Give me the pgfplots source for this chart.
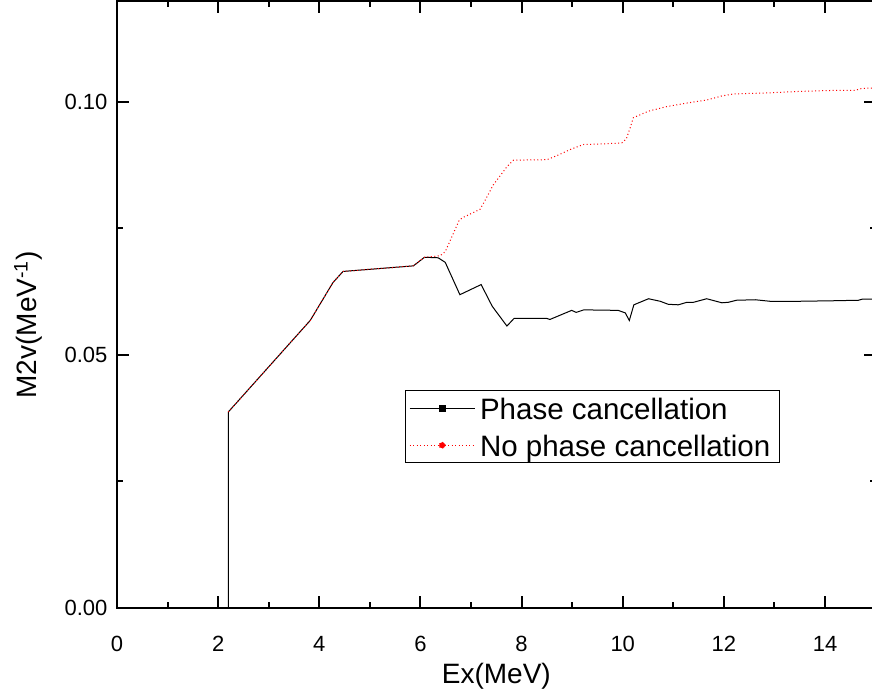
\documentclass[border=0pt]{standalone}
\usepackage{pgfplots}
\pgfplotsset{compat=1.18}
\usepackage{fontspec}
\setmainfont{Liberation Sans}
\begin{document}
\begin{tikzpicture}
\useasboundingbox (0,0) rectangle (872pt,697pt);
\begin{axis}[
  at={(117pt,89.3pt)}, anchor=south west,
  scale only axis, width=758.6pt, height=606.8pt,
  xmin=0, xmax=15, ymin=0, ymax=0.12,
  axis line style={line width=2pt},
  xtick={0,2,...,14}, minor x tick num=1,
  ytick={0,0.05,0.10}, minor y tick num=1,
  major tick length=12pt, minor tick length=6pt,
  every tick/.style={line width=2pt, black},
  tick align=inside,
  /pgf/number format/assume math mode=true,
  yticklabel style={/pgf/number format/fixed, /pgf/number format/fixed zerofill, /pgf/number format/precision=2, xshift=-6pt},
  xticklabel style={yshift=-25pt},
  ticklabel style={font=\fontsize{22}{26}\selectfont},
  xlabel={Ex(MeV)},
  ylabel={M2v(MeV\textsuperscript{-1})},
  label style={font=\fontsize{28}{32}\selectfont},
  xlabel style={at={(axis description cs:0.5,-0.113)}, anchor=center},
  ylabel style={at={(axis description cs:-0.117,0.466)}, anchor=center, rotate=0},
  legend style={at={(axis cs:5.69,0.0430)}, anchor=north west, draw=black, line width=1pt,
    font=\fontsize{29.5}{32}\selectfont, inner xsep=4pt, inner ysep=0.5pt, row sep=3pt,
    nodes={inner xsep=5pt, inner ysep=3pt, text height=25pt, text depth=3pt}},
  legend cell align=left,
]
\addplot[black, line width=1pt, legend image code/.code={
    \draw[black, line width=0.8pt] (0pt,0pt) -- (65pt,0pt);
    \fill[black] (29.5pt,-3pt) rectangle (35.5pt,3pt);}]
coordinates {
(2.20,0) (2.20,0.0387) (3.82,0.0568) (4.27,0.0643) (4.47,0.0665) (5.86,0.0676)
(6.08,0.0693) (6.35,0.0692) (6.49,0.0683) (6.78,0.0619) (7.20,0.0639) (7.42,0.0596)
(7.71,0.0557) (7.85,0.0572) (8.50,0.0572) (8.56,0.0570) (8.99,0.0588) (9.08,0.0584)
(9.23,0.0589) (9.91,0.0588) (10.05,0.0583) (10.13,0.0568) (10.22,0.0599) (10.51,0.0611)
(10.74,0.0606) (10.90,0.0600) (11.10,0.0599) (11.27,0.0604) (11.40,0.0604) (11.66,0.0611)
(11.96,0.0603) (12.09,0.0604) (12.25,0.0608) (12.62,0.0609) (12.91,0.0606) (13.50,0.0606)
(14.16,0.0607) (14.66,0.0608) (14.73,0.0610) (15.0,0.0610)
};
\addlegendentry{Phase cancellation}
\addplot[red, line width=1pt, dash pattern=on 1pt off 2.5pt, legend image code/.code={
    \draw[red, line width=0.8pt, dash pattern=on 1pt off 2.5pt] (0pt,0pt) -- (65pt,0pt);
    \fill[red] (32.5pt,0pt) circle (3pt);}]
coordinates {
(2.20,0.0387) (3.82,0.0568) (4.27,0.0643) (4.47,0.0665) (5.86,0.0676)
(6.08,0.0693) (6.39,0.0696) (6.49,0.0704) (6.77,0.0767) (6.85,0.0772) (7.18,0.0788)
(7.28,0.0806) (7.44,0.0836) (7.71,0.0872) (7.84,0.0885) (8.50,0.0886) (8.70,0.0894)
(8.96,0.0906) (9.22,0.0916) (9.55,0.0917) (9.98,0.0919) (10.07,0.0927) (10.14,0.0947)
(10.21,0.0969) (10.51,0.0982) (10.87,0.0991) (11.27,0.0998) (11.66,0.1004) (11.96,0.1012)
(12.19,0.1016) (12.85,0.1018) (13.50,0.1021) (14.16,0.1023) (14.59,0.1023) (14.73,0.1027)
(15.0,0.1028)
};
\addlegendentry{No phase cancellation}
\end{axis}
\end{tikzpicture}
\end{document}
